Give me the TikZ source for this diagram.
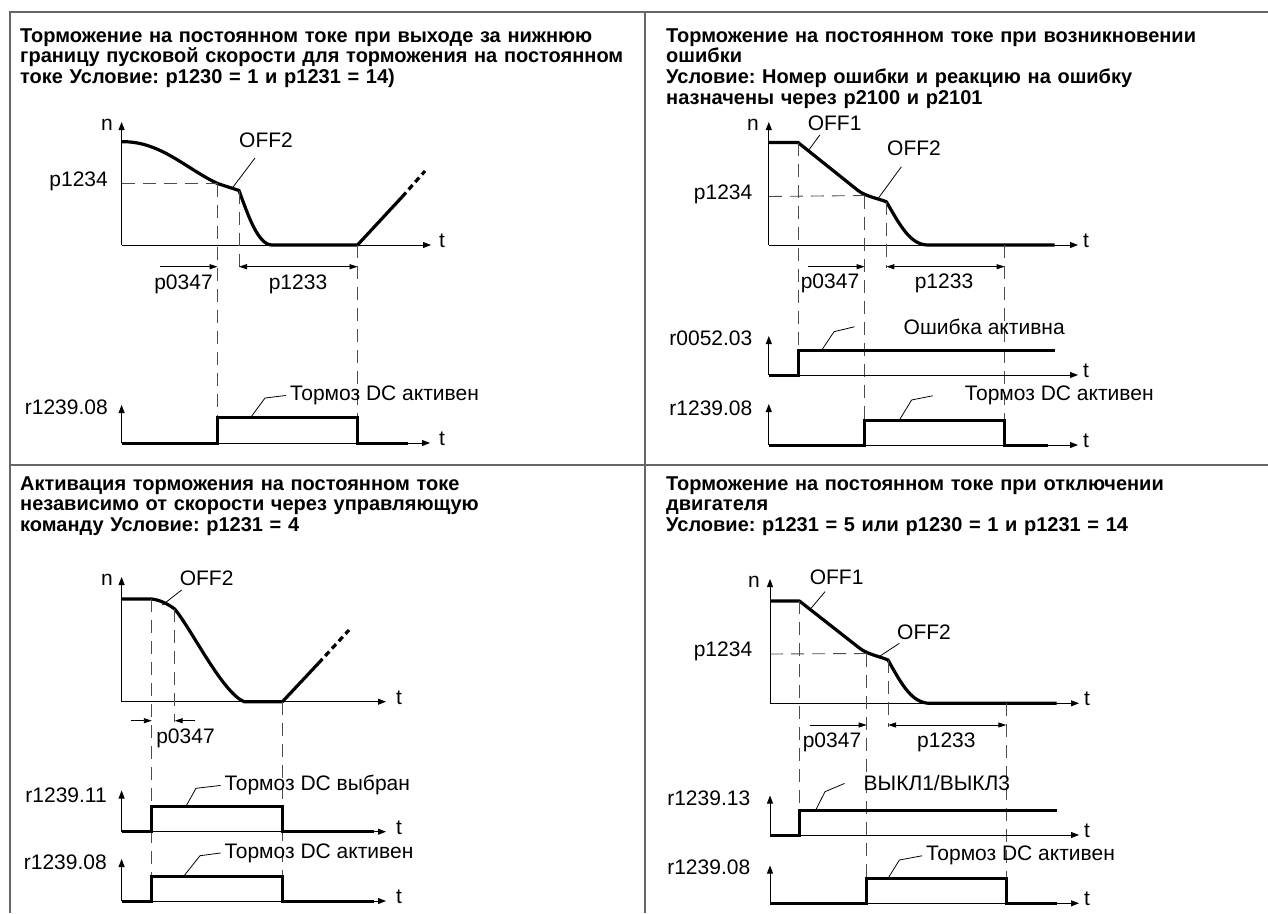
\documentclass[tikz,border=0pt]{standalone}
\usepackage{fontspec}
\setmainfont{Liberation Sans}
\frenchspacing
\usetikzlibrary{arrows.meta}
\tikzset{
  frameline/.style={draw=black!60, line width=1.5pt},
  axisline/.style={line width=0.9pt, -{Triangle[length=8pt,width=6pt]}},
  speed/.style={line width=3.2pt, line join=round},
  signal/.style={line width=3pt, line join=miter},
  guide/.style={line width=0.9pt, draw=black!70, dash pattern=on 13pt off 8pt},
  leader/.style={line width=0.8pt},
  dimarrow/.style={line width=0.9pt, -{Triangle[length=8pt,width=5pt]}},
  dimboth/.style={line width=0.9pt, {Triangle[length=8pt,width=5pt]}-{Triangle[length=8pt,width=5pt]}},
  lbl/.style={inner sep=0pt, font=\fontsize{21}{21}\selectfont},
  head/.style={inner sep=0pt, anchor=base west, text width=610pt, align=left, font=\bfseries\fontsize{20}{20.7}\selectfont}
}
\begin{document}
\begin{tikzpicture}[x=1pt,y=-1pt]
		\useasboundingbox (0,0) rectangle (1268,913);
		\draw[frameline] (10,913) to (10,12) to (1268,12);
		\draw[frameline] (645,12) to (645,913);
		\draw[frameline] (10,465) to (1268,465);
		
		\node[head] (tlhead) at (20,42) {Торможение на постоянном токе при выходе за нижнюю\\границу пусковой скорости для торможения на постоянном\\токе Условие: p1230 = 1 и p1231 = 14)};
		\draw[axisline] (121.6,245) to (121.6,122);
		\draw[axisline] (121.6,245) to (431,245);
		\node[lbl,anchor=mid east] (tln) at (113,128) {n};
		\node[lbl,anchor=mid west] (tlt) at (439,245) {t};
		\coordinate (tla) at (217.5,183.5);
		\coordinate (tlb) at (239,190.5);
		\coordinate (tlc) at (357.5,245);
		\draw[speed] (121.6,141.7) .. controls (160,141) and (185,168) .. (tla) to (tlb) .. controls (248,215) and (258,245) .. (272,245) to (tlc) to (402,197);
		\draw[speed,dash pattern=on 6pt off 4pt] (402,197) to (425,171);
		\draw[guide] (121.6,183.5) to (tla);
		\node[lbl,anchor=mid east] (tlp1234) at (108,184) {p1234};
		\draw[guide] (tla) to (217.5,417);
		\draw[guide] (tlb) to (239,268);
		\draw[guide] (tlc) to (357.5,417);
		\draw[dimarrow] (160.4,266.7) to (217.5,266.7);
		\draw[dimboth] (239,266.7) to (357.5,266.7);
		\node[lbl] (tlp0347) at (183.5,284) {p0347};
		\node[lbl] (tlp1233) at (298,284) {p1233};
		\node[lbl,anchor=mid west] (tloff) at (239,145) {OFF2};
		\coordinate (tloffend) at (255,158);
		\draw[leader] (232.7,187.5) to (tloffend);
		\draw[axisline] (121.6,443) to (121.6,405);
		\draw[axisline] (121.6,443) to (430,443);
		\node[lbl,anchor=mid west] (tlt2) at (439,443) {t};
		\draw[signal] (121.6,443) to (217.5,443) to (217.5,417) to (357.5,417) to (357.5,443) to (408,443);
		\node[lbl,anchor=mid east] (tlr) at (108,412) {r1239.08};
		\node[lbl,anchor=mid west] (tldc) at (290,398) {Тормоз DC активен};
		\draw[leader] (251,417) to (265,398) to ([xshift=-4pt]tldc.west);
		
		\node[head] (trhead) at (666,42) {Торможение на постоянном токе при возникновении\\ошибки\\Условие: Номер ошибки и реакцию на ошибку\\назначены через p2100 и p2101};
		\draw[axisline] (768.8,245) to (768.8,122);
		\draw[axisline] (768.8,245) to (1078,245);
		\node[lbl,anchor=mid east] (trn) at (759,128) {n};
		\node[lbl,anchor=mid west] (trt) at (1083,245) {t};
		\coordinate (tra) at (798,142.5);
		\coordinate (trb) at (864.7,195.5);
		\coordinate (trc) at (886.3,201.7);
		\coordinate (trd) at (1004.7,245);
		\draw[speed] (768.8,142.5) to (tra) to (858,190.5) .. controls (866,196.5) and (878,198.5) .. (trc) .. controls (900,225) and (910,245) .. (928,245) to (1054.5,245);
		\draw[guide] (768.8,196.5) to (trb);
		\node[lbl,anchor=mid east] (trp1234) at (752.5,197) {p1234};
		\draw[guide] (tra) to (798,350);
		\draw[guide] (trb) to (864.7,420);
		\draw[guide] (trc) to (886.3,268);
		\draw[guide] (trd) to (1004.7,420);
		\draw[dimarrow] (807.6,266.7) to (864.7,266.7);
		\draw[dimboth] (886.3,266.7) to (1004.7,266.7);
		\node[lbl] (trp0347) at (830,283.5) {p0347};
		\node[lbl] (trp1233) at (944,283.5) {p1233};
		\node[lbl,anchor=mid west] (troff1) at (807.6,128) {OFF1};
		\coordinate (troff1end) at (819.8,135);
		\draw[leader] (807.6,151.7) to (troff1end);
		\node[lbl,anchor=mid west] (troff2) at (887,153) {OFF2};
		\coordinate (troff2end) at (901.4,166.7);
		\draw[leader] (877,200) to (troff2end);
		\draw[axisline] (768.8,375) to (768.8,336);
		\draw[axisline] (768.8,375) to (1078,375);
		\node[lbl,anchor=mid west] (trt2) at (1083,375) {t};
		\draw[signal] (768.8,375) to (798,375) to (798,350) to (1054.5,350);
		\node[lbl,anchor=mid east] (trr1) at (752.5,343) {r0052.03};
		\node[lbl,anchor=mid west] (trerr) at (903.5,331.7) {Ошибка активна};
		\draw[leader] (821.8,350) to (834,331.7) to ([xshift=-49pt]trerr.west);
		\draw[axisline] (768.8,445) to (768.8,404);
		\draw[axisline] (768.8,445) to (1078,445);
		\node[lbl,anchor=mid west] (trt3) at (1083,445) {t};
		\draw[signal] (768.8,445) to (864.7,445) to (864.7,420) to (1004.7,420) to (1004.7,445) to (1048,445);
		\node[lbl,anchor=mid east] (trr2) at (752.5,413) {r1239.08};
		\node[lbl,anchor=mid west] (trdc) at (964.7,398.3) {Тормоз DC активен};
		\draw[leader] (899.4,420) to (911.6,400) to ([xshift=-32pt]trdc.west);
		
		\node[head] (blhead) at (20,490) {Активация торможения на постоянном токе\\независимо от скорости через управляющую\\команду Условие: p1231 = 4};
		\draw[axisline] (121.6,701.7) to (121.6,577);
		\draw[axisline] (121.6,701.7) to (386,701.7);
		\node[lbl,anchor=mid east] (bln) at (113,583) {n};
		\node[lbl,anchor=mid west] (blt) at (396,701.7) {t};
		\coordinate (bla) at (151.8,599);
		\coordinate (blb) at (174.7,609);
		\coordinate (blc) at (282.4,701.7);
		\draw[speed] (121.6,599) to (bla) .. controls (160,600) and (168,604) .. (blb) .. controls (192,630) and (222,692) .. (244,701.7) to (blc) to (318.4,663.3);
		\draw[speed,dash pattern=on 6pt off 4pt] (318.4,663.3) to (349,630);
		\node[lbl,anchor=mid west] (bloff) at (179.6,583.3) {OFF2};
		\coordinate (bloffend) at (181.6,590);
		\draw[leader] (162.4,605) to (bloffend);
		\draw[guide] (bla) to (151.8,876.7);
		\draw[guide] (blb) to (174.7,721.7);
		\draw[guide] (blc) to (282.4,876.7);
		\draw[dimarrow] (130.6,720.7) to (151.8,720.7);
		\draw[dimarrow] (195,720.7) to (174.7,720.7);
		\node[lbl] (blp0347) at (185.5,738.5) {p0347};
		\draw[axisline] (121.6,831.7) to (121.6,790.5);
		\draw[axisline] (121.6,831.7) to (386,831.7);
		\node[lbl,anchor=mid west] (blt2) at (396,831.7) {t};
		\draw[signal] (121.6,831.7) to (151.8,831.7) to (151.8,806.7) to (282.4,806.7) to (282.4,831.7) to (373.5,831.7);
		\node[lbl,anchor=mid east] (blr1) at (107,800) {r1239.11};
		\node[lbl,anchor=mid west] (blsel) at (224.5,788.3) {Тормоз DC выбран};
		\draw[leader] (185.7,806.7) to (196,788.3) to ([xshift=-4pt]blsel.west);
		\draw[axisline] (121.6,901) to (121.6,859);
		\draw[axisline] (121.6,901) to (386,901);
		\node[lbl,anchor=mid west] (blt3) at (396,901) {t};
		\draw[signal] (121.6,901) to (151.8,901) to (151.8,876.7) to (282.4,876.7) to (282.4,901) to (373.5,901);
		\node[lbl,anchor=mid east] (blr2) at (107,867) {r1239.08};
		\node[lbl,anchor=mid west] (bldc) at (224.5,855.5) {Тормоз DC активен};
		\draw[leader] (183.3,876.7) to (200,855.7) to ([xshift=-4pt]bldc.west);
		
		\node[head] (brhead) at (666,490) {Торможение на постоянном токе при отключении\\двигателя\\Условие: p1231 = 5 или p1230 = 1 и p1231 = 14};
		\draw[axisline] (770,703.3) to (770,579);
		\draw[axisline] (770,703.3) to (1079,703.3);
		\node[lbl,anchor=mid east] (brn) at (760,585) {n};
		\node[lbl,anchor=mid west] (brt) at (1084,703.3) {t};
		\coordinate (bra) at (799.4,601);
		\coordinate (brb) at (866.7,653.5);
		\coordinate (brc) at (888,660);
		\coordinate (brd) at (1006.3,703.3);
		\draw[speed] (770,601) to (bra) to (860,648.5) .. controls (868,654.5) and (880,656.5) .. (brc) .. controls (902,685) and (912,703.3) .. (930,703.3) to (1056.5,703.3);
		\draw[guide] (770,654) to (brb);
		\node[lbl,anchor=mid east] (brp1234) at (752.4,654) {p1234};
		\node[lbl,anchor=mid west] (broff1) at (809.6,581.7) {OFF1};
		\coordinate (broff1end) at (825,591.7);
		\draw[leader] (809.6,610) to (broff1end);
		\node[lbl,anchor=mid west] (broff2) at (897,636.7) {OFF2};
		\coordinate (broff2end) at (899.4,643.3);
		\draw[leader] (879,656.7) to (broff2end);
		\draw[guide] (bra) to (799.4,810);
		\draw[guide] (brb) to (866.7,878.3);
		\draw[guide] (brc) to (888,726.7);
		\draw[guide] (brd) to (1006.3,878.3);
		\draw[dimarrow] (809.6,725) to (866.7,725);
		\draw[dimboth] (888,725) to (1006.3,725);
		\node[lbl] (brp0347) at (832,742) {p0347};
		\node[lbl] (brp1233) at (946.4,742) {p1233};
		\draw[axisline] (770,835) to (770,795.5);
		\draw[axisline] (770,835) to (1079,835);
		\node[lbl,anchor=mid west] (brt2) at (1084,835) {t};
		\draw[signal] (770,835) to (799.4,835) to (799.4,810) to (1056.5,810);
		\node[lbl,anchor=mid east] (brr1) at (750.4,803.3) {r1239.13};
		\node[lbl,anchor=mid west] (brstop) at (863.5,788.3) {ВЫКЛ1/ВЫКЛ3};
		\draw[leader] (815.7,810) to (825,791.7) to ([xshift=-19pt]brstop.west);
		\draw[axisline] (770,903.3) to (770,865.5);
		\draw[axisline] (770,903.3) to (1079,903.3);
		\node[lbl,anchor=mid west] (brt3) at (1084,903.3) {t};
		\draw[signal] (770,903.3) to (866.7,903.3) to (866.7,878.3) to (1006.3,878.3) to (1006.3,903.3) to (1056.5,903.3);
		\node[lbl,anchor=mid east] (brr2) at (750.4,871.7) {r1239.08};
		\node[lbl,anchor=mid west] (brdc) at (926,858.3) {Тормоз DC активен};
		\draw[leader] (888,878.3) to (899.4,860) to ([xshift=-4pt]brdc.west);
	\end{tikzpicture}
\end{document}
